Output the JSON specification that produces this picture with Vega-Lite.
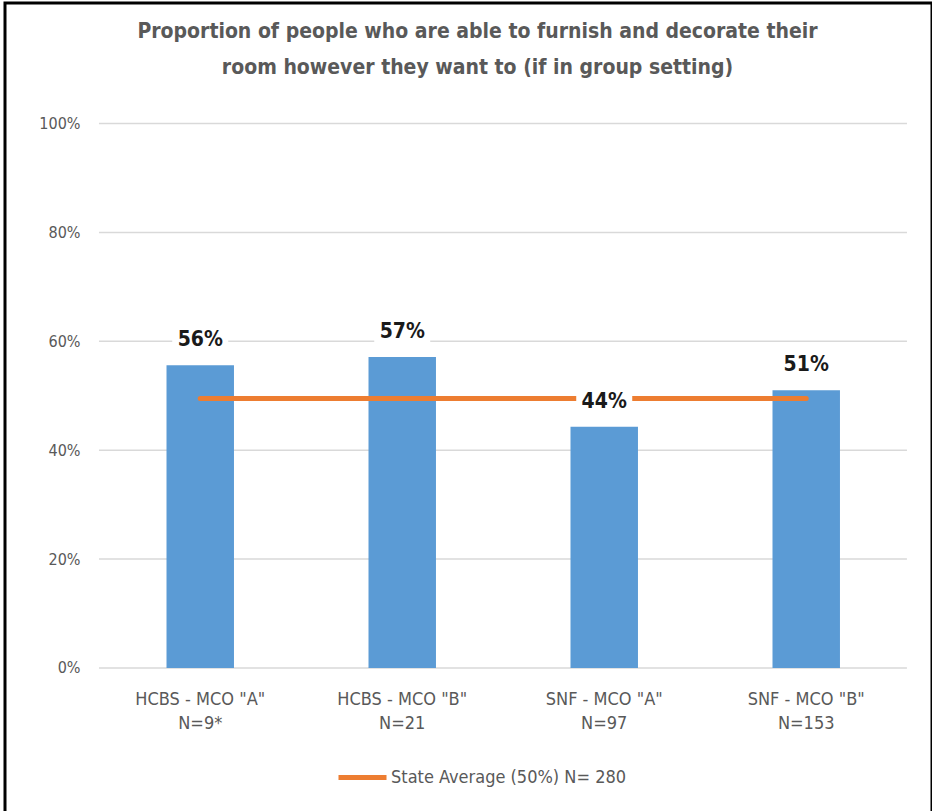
{
  "$schema": "https://vega.github.io/schema/vega-lite/v6.json",
  "autosize": "none",
  "padding": {"left": 5, "top": 3, "right": 0, "bottom": 0},
  "width": 927,
  "height": 815,
  "background": "white",
  "config": {
    "view": {"stroke": "black", "strokeWidth": 3},
    "font": "Liberation Sans Narrow, DejaVu Sans Condensed, sans-serif"
  },
  "title": {
    "text": ["Proportion of people who are able to furnish and decorate their", "room however they want to (if in group setting)"],
    "anchor": "middle",
    "frame": "group",
    "baseline": "top",
    "offset": -75,
    "dx": 9,
    "fontSize": 21,
    "fontWeight": "bold",
    "color": "#595959",
    "lineHeight": 36,
    "font": "Liberation Sans Narrow, DejaVu Sans Condensed, sans-serif"
  },
  "resolve": {"scale": {"x": "independent"}},
  "layer": [
    {
      "data": {"values": [{"tick": 0}, {"tick": 0.2}, {"tick": 0.4}, {"tick": 0.6}, {"tick": 0.8}, {"tick": 1}]},
      "mark": {"type": "rule", "color": "#d9d9d9", "strokeWidth": 1.5},
      "encoding": {
        "x": {"datum": 0, "type": "quantitative", "scale": {"domain": [-0.1163, 1.031], "nice": false, "zero": false}, "axis": null},
        "x2": {"datum": 1},
        "y": {
          "field": "tick", "type": "quantitative",
          "scale": {"domain": [-0.2755, 1.2213], "nice": false, "zero": false},
          "axis": {
            "title": null, "values": [0, 0.2, 0.4, 0.6, 0.8, 1], "format": ".0%",
            "offset": -75, "ticks": false, "domain": false, "grid": false, "labelPadding": 0,
            "labelFontSize": 16, "labelColor": "#595959"
          }
        }
      }
    },
    {
      "data": {"values": [
        {"group": "HCBS - MCO \"A\"\nN=9*", "value": 0.556},
        {"group": "HCBS - MCO \"B\"\nN=21", "value": 0.571},
        {"group": "SNF - MCO \"A\"\nN=97", "value": 0.443},
        {"group": "SNF - MCO \"B\"\nN=153", "value": 0.51}
      ]},
      "encoding": {
        "x": {
          "field": "group", "type": "nominal", "sort": null,
          "scale": {"paddingInner": 0.666, "paddingOuter": 0.6276, "align": 0.637},
          "axis": {
            "title": null, "orient": "bottom", "offset": -150, "ticks": false, "domain": false, "grid": false,
            "labelAngle": 0, "labelBaseline": "top", "labelPadding": 22, "labelLineHeight": 24,
            "labelFontSize": 18, "labelColor": "#595959",
            "labelExpr": "split(datum.value, '\\n')"
          }
        }
      },
      "layer": [
        {
          "mark": {"type": "bar", "color": "#5B9BD5"},
          "encoding": {
            "y": {
              "field": "value", "type": "quantitative",
              "scale": {"domain": [-0.2755, 1.2213], "nice": false, "zero": false},
              "axis": {
                "title": null, "values": [0, 0.2, 0.4, 0.6, 0.8, 1], "format": ".0%",
                "offset": -75, "ticks": false, "domain": false, "grid": false, "labelPadding": 0,
                "labelFontSize": 16, "labelColor": "#595959"
              }
            }
          }
        },
        {
          "mark": {"type": "line", "strokeWidth": 5, "strokeCap": "round"},
          "encoding": {
            "y": {"datum": 0.495, "type": "quantitative"},
            "color": {
              "datum": "State Average (50%) N= 280",
              "type": "nominal",
              "scale": {"domain": ["State Average (50%) N= 280"], "range": ["#ED7D31"]},
              "legend": {
                "title": null, "orient": "none", "legendX": 331, "legendY": 748,
                "symbolType": "stroke", "symbolSize": 2304, "symbolStrokeWidth": 5,
                "labelFontSize": 18, "labelColor": "#595959", "labelOffset": 2, "padding": 0,
                "labelLimit": 500
              }
            }
          }
        },
        {
          "mark": {"type": "rect", "color": "white", "width": 56, "height": 27, "yOffset": -26},
          "encoding": {
            "y": {"field": "value", "type": "quantitative"}
          }
        },
        {
          "mark": {"type": "text", "fontSize": 21, "fontWeight": "bold", "color": "#1a1a1a", "baseline": "middle", "dy": -25},
          "encoding": {
            "y": {"field": "value", "type": "quantitative"},
            "text": {"field": "value", "type": "quantitative", "format": ".0%"}
          }
        }
      ]
    }
  ]
}
